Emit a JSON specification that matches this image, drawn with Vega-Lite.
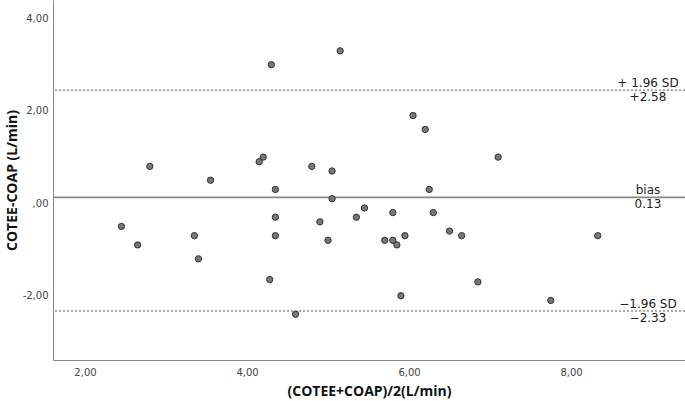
{
  "$schema": "https://vega.github.io/schema/vega-lite/v6.json",
  "width": 632,
  "height": 360,
  "autosize": "none",
  "padding": {"left": 53, "top": 0, "right": 0, "bottom": 41},
  "background": "white",
  "config": {"view": {"stroke": null}},
  "datasets": {
    "points": [
      {"mean": 5.15, "diff": 3.3}, {"mean": 4.30, "diff": 3.0}, {"mean": 2.80, "diff": 0.8},
      {"mean": 4.20, "diff": 1.0}, {"mean": 4.15, "diff": 0.9}, {"mean": 4.80, "diff": 0.8},
      {"mean": 5.05, "diff": 0.7}, {"mean": 3.55, "diff": 0.5}, {"mean": 4.35, "diff": 0.3},
      {"mean": 5.05, "diff": 0.1}, {"mean": 5.45, "diff": -0.1}, {"mean": 2.45, "diff": -0.5},
      {"mean": 4.35, "diff": -0.3}, {"mean": 4.90, "diff": -0.4}, {"mean": 5.35, "diff": -0.3},
      {"mean": 2.65, "diff": -0.9}, {"mean": 3.35, "diff": -0.7}, {"mean": 4.35, "diff": -0.7},
      {"mean": 5.00, "diff": -0.8}, {"mean": 3.40, "diff": -1.2}, {"mean": 4.28, "diff": -1.65},
      {"mean": 4.60, "diff": -2.4}, {"mean": 6.05, "diff": 1.9}, {"mean": 6.20, "diff": 1.6},
      {"mean": 7.10, "diff": 1.0}, {"mean": 6.25, "diff": 0.3}, {"mean": 5.80, "diff": -0.2},
      {"mean": 6.30, "diff": -0.2}, {"mean": 5.70, "diff": -0.8}, {"mean": 5.80, "diff": -0.8},
      {"mean": 5.85, "diff": -0.9}, {"mean": 5.95, "diff": -0.7}, {"mean": 6.50, "diff": -0.6},
      {"mean": 6.65, "diff": -0.7}, {"mean": 8.33, "diff": -0.7}, {"mean": 6.85, "diff": -1.7},
      {"mean": 5.90, "diff": -2.0}, {"mean": 7.75, "diff": -2.1}
    ],
    "lines": [
      {"name": "+ 1.96 SD", "label": "+2.58", "y": 2.45, "kind": "limit"},
      {"name": "bias", "label": "0.13", "y": 0.13, "kind": "bias"},
      {"name": "−1.96 SD", "label": "−2.33", "y": -2.33, "kind": "limit"}
    ]
  },
  "layer": [
    {
      "data": {"name": "lines"},
      "transform": [{"filter": "datum.kind == 'limit'"}],
      "mark": {"type": "rule", "color": "#555555", "strokeWidth": 1, "strokeDash": [2, 2]},
      "encoding": {
        "y": {"field": "y", "type": "quantitative", "scale": {"domain": [-3.39, 4.4], "nice": false, "zero": false}}
      }
    },
    {
      "data": {"name": "lines"},
      "transform": [{"filter": "datum.kind == 'bias'"}],
      "mark": {"type": "rule", "color": "#888888", "strokeWidth": 1.6},
      "encoding": {
        "y": {"field": "y", "type": "quantitative"}
      }
    },
    {
      "data": {"name": "points"},
      "mark": {"type": "point", "shape": "circle", "filled": true, "fill": "#777777", "stroke": "#333333", "strokeWidth": 1, "size": 40, "opacity": 1},
      "encoding": {
        "x": {
          "field": "mean", "type": "quantitative",
          "scale": {"domain": [1.605, 9.407], "nice": false, "zero": false},
          "axis": {
            "values": [2, 4, 6, 8],
            "title": "(COTEE+COAP)/2(L/min)",
            "labelExpr": "replace(format(datum.value, '.2f'), '.', ',')",
            "grid": false, "ticks": false, "tickSize": 0,
            "domainColor": "#888888", "domainWidth": 1,
            "labelFont": "DejaVu Sans", "labelFontSize": 10, "labelColor": "#444444", "labelPadding": 7,
            "titleFont": "Open Sans", "titleFontSize": 14, "titleFontWeight": "bold", "titleColor": "#111111",
            "titleY": 31, "titleBaseline": "middle"
          }
        },
        "y": {
          "field": "diff", "type": "quantitative",
          "axis": {
            "values": [-2, 0, 2, 4],
            "title": "COTEE-COAP (L/min)",
            "labelExpr": "datum.value == 0 ? ',00' : replace(replace(format(datum.value, '.2f'), '.', ','), '−', '-')",
            "grid": false, "ticks": false, "tickSize": 0,
            "domainColor": "#888888", "domainWidth": 1,
            "labelFont": "DejaVu Sans", "labelFontSize": 10, "labelColor": "#444444", "labelPadding": 5,
            "titleFont": "Open Sans", "titleFontSize": 14, "titleFontWeight": "bold", "titleColor": "#111111",
            "titleX": -41, "titleY": 180, "titleBaseline": "middle", "titleAngle": -90
          }
        }
      }
    },
    {
      "data": {"name": "lines"},
      "mark": {"type": "text", "font": "DejaVu Sans", "fontSize": 12, "color": "#222222", "align": "center", "baseline": "alphabetic", "dy": -3},
      "encoding": {
        "x": {"datum": 8.95, "type": "quantitative"},
        "y": {"field": "y", "type": "quantitative"},
        "text": {"field": "name"}
      }
    },
    {
      "data": {"name": "lines"},
      "mark": {"type": "text", "font": "DejaVu Sans", "fontSize": 12, "color": "#222222", "align": "center", "baseline": "top", "dy": 2},
      "encoding": {
        "x": {"datum": 8.95, "type": "quantitative"},
        "y": {"field": "y", "type": "quantitative"},
        "text": {"field": "label"}
      }
    }
  ]
}
